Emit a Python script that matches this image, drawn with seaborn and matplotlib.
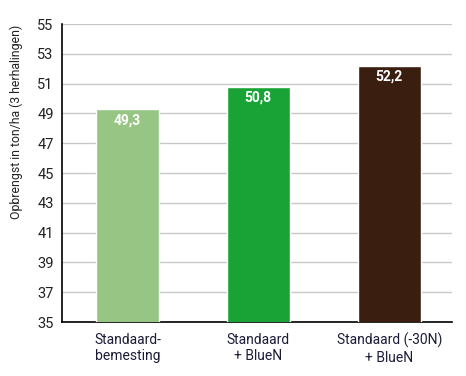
import matplotlib
matplotlib.use("Agg")
import matplotlib.pyplot as plt
import seaborn as sns
import pandas as pd

categories = ["Standaard-\nbemesting", "Standaard\n+ BlueN", "Standaard (-30N)\n+ BlueN"]
values = [49.3, 50.8, 52.2]
value_labels = ["49,3", "50,8", "52,2"]
colors = ["#96c584", "#19a337", "#3a1e10"]
yticks = [35, 37, 39, 41, 43, 45, 47, 49, 51, 53, 55]

sns.set_style("white")
plt.rcParams['font.family'] = ['Roboto', 'DejaVu Sans']

df = pd.DataFrame({'cat': categories, 'val': values})

fig = plt.figure(figsize=(4.66, 3.76), dpi=100)
ax = fig.add_axes([0.133, 0.1436, 0.837, 0.7924])

sns.barplot(ax=ax, data=df, x='cat', y='val', hue='cat', palette=colors,
            width=0.48, legend=False, saturation=1, zorder=3)

ax.set_ylim(35, 55)
ax.set_xlim(-0.5, 2.48)
ax.set_yticks(yticks)
ax.yaxis.grid(True, color='#c8c8c8', linewidth=1, zorder=0)
ax.set_axisbelow(True)

for s in ['top', 'right']:
    ax.spines[s].set_visible(False)
for s in ['left', 'bottom']:
    ax.spines[s].set_color('black')
    ax.spines[s].set_linewidth(1.2)

ax.tick_params(axis='y', length=0, labelsize=10.5, colors='#222222', pad=6)
ax.tick_params(axis='x', length=0, labelsize=10, colors='#1c1c38', pad=8)

for i, (v, lab) in enumerate(zip(values, value_labels)):
    ax.text(i, v - 0.75, lab, ha='center', va='center', color='white',
            fontsize=10, fontweight='bold', zorder=4)

ax.set_xlabel('')
ax.set_ylabel('Opbrengst in ton/ha (3 herhalingen)', fontsize=8.8, color='#222222')
ax.yaxis.set_label_coords(-0.10, 0.671)

plt.savefig('out.png', dpi=100)
